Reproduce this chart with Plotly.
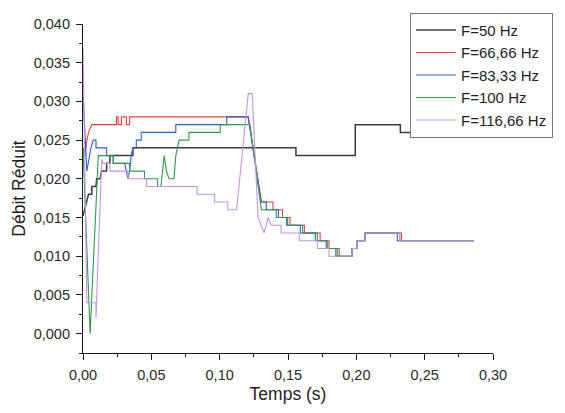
import plotly.graph_objects as go

# Débit réduit en fonction du temps pour cinq fréquences d'excitation
labels = ["F=50 Hz", "F=66,66 Hz", "F=83,33 Hz", "F=100 Hz", "F=116,66 Hz"]
colors = ["#3c3c3c", "#e2413d", "#2e5fcf", "#2f9a4c", "#c493e6"]

t_50 = [0.000, 0.003, 0.004, 0.0064, 0.0064, 0.0095, 0.010, 0.0124, 0.0137, 0.0173, 0.0173,
        0.0197, 0.0197, 0.0365, 0.0365, 0.1558, 0.1558, 0.1992, 0.1992, 0.2322, 0.2322,
        0.2570, 0.2570, 0.2860]
q_50 = [0.0152, 0.0176, 0.018, 0.018, 0.019, 0.019, 0.020, 0.020, 0.021, 0.021, 0.022,
        0.022, 0.023, 0.023, 0.024, 0.024, 0.023, 0.023, 0.027, 0.027, 0.026,
        0.026, 0.027, 0.027]

t_66 = [0.000, 0.0015, 0.0028, 0.004, 0.0064, 0.0245, 0.0245, 0.0257, 0.0257, 0.0281, 0.0281,
        0.0317, 0.0317, 0.0341, 0.0341, 0.1209, 0.1305, 0.1390, 0.1390, 0.1460, 0.1460,
        0.1515, 0.1515, 0.1620, 0.1620, 0.1735, 0.1735, 0.1800, 0.1800, 0.1875, 0.1875,
        0.1968, 0.1968, 0.2004, 0.2004, 0.2064, 0.2064, 0.2330, 0.2330, 0.2860]
q_66 = [0.024, 0.023, 0.025, 0.026, 0.027, 0.027, 0.028, 0.028, 0.027, 0.027, 0.028,
        0.028, 0.027, 0.027, 0.028, 0.028, 0.017, 0.017, 0.016, 0.016, 0.015,
        0.015, 0.014, 0.014, 0.013, 0.013, 0.012, 0.012, 0.011, 0.011, 0.010,
        0.010, 0.011, 0.011, 0.012, 0.012, 0.013, 0.013, 0.012, 0.012]

t_83 = [0.000, 0.0028, 0.0058, 0.0075, 0.0095, 0.0095, 0.0173, 0.0173, 0.0221, 0.0221,
        0.0305, 0.0329, 0.0341, 0.0353, 0.0365, 0.0390, 0.0390, 0.0426, 0.0426, 0.0679,
        0.0679, 0.1052, 0.1052, 0.1209, 0.1305, 0.1341, 0.1341, 0.1430, 0.1430, 0.1490,
        0.1490, 0.1590, 0.1590, 0.1700, 0.1700, 0.1780, 0.1780, 0.1850, 0.1850, 0.1968,
        0.1968, 0.2004, 0.2004, 0.2064, 0.2064, 0.2300, 0.2300, 0.2860]
q_83 = [0.031, 0.021, 0.024, 0.025, 0.025, 0.024, 0.024, 0.023, 0.023, 0.022,
        0.022, 0.020, 0.021, 0.023, 0.024, 0.024, 0.025, 0.025, 0.026, 0.026,
        0.027, 0.027, 0.028, 0.028, 0.017, 0.017, 0.016, 0.016, 0.015, 0.015,
        0.014, 0.014, 0.013, 0.013, 0.012, 0.012, 0.011, 0.011, 0.010, 0.010,
        0.011, 0.011, 0.012, 0.012, 0.013, 0.013, 0.012, 0.012]

t_100 = [0.000, 0.0052, 0.0112, 0.0221, 0.0221, 0.0341, 0.0341, 0.0450, 0.0450, 0.0546,
         0.0546, 0.0570, 0.0594, 0.0610, 0.0630, 0.0666, 0.0679, 0.0690, 0.0703, 0.0775,
         0.0775, 0.1004, 0.1004, 0.1221, 0.1305, 0.1414, 0.1414, 0.1498, 0.1498, 0.1607,
         0.1607, 0.1715, 0.1715, 0.1787, 0.1787, 0.1860, 0.1860, 0.1968, 0.1968, 0.2004,
         0.2004, 0.2064, 0.2064, 0.2317, 0.2317, 0.2860]
q_100 = [0.024, 0.000, 0.023, 0.023, 0.022, 0.022, 0.021, 0.021, 0.020, 0.020,
         0.019, 0.019, 0.023, 0.021, 0.020, 0.020, 0.023, 0.024, 0.025, 0.025,
         0.026, 0.026, 0.027, 0.027, 0.016, 0.016, 0.015, 0.015, 0.014, 0.014,
         0.013, 0.013, 0.012, 0.012, 0.011, 0.011, 0.010, 0.010, 0.011, 0.011,
         0.012, 0.012, 0.013, 0.013, 0.012, 0.012]

t_116 = [0.000, 0.0028, 0.0095, 0.0095, 0.0137, 0.0148, 0.0197, 0.0197, 0.0329, 0.0329,
         0.0466, 0.0466, 0.0835, 0.0835, 0.0963, 0.0963, 0.1059, 0.1059, 0.1124, 0.1209,
         0.1238, 0.1281, 0.1325, 0.1354, 0.1377, 0.1450, 0.1450, 0.1583, 0.1583, 0.1715,
         0.1715, 0.1800, 0.1800, 0.1968, 0.1968, 0.2004, 0.2004, 0.2064, 0.2064, 0.2317,
         0.2317, 0.2860]
q_116 = [0.037, 0.004, 0.004, 0.002, 0.0225, 0.022, 0.022, 0.021, 0.021, 0.020,
         0.020, 0.019, 0.019, 0.018, 0.018, 0.017, 0.017, 0.016, 0.016, 0.031,
         0.031, 0.015, 0.013, 0.015, 0.014, 0.014, 0.013, 0.013, 0.012, 0.012,
         0.011, 0.011, 0.010, 0.010, 0.011, 0.011, 0.012, 0.012, 0.013, 0.013,
         0.012, 0.012]

series_t = [t_50, t_66, t_83, t_100, t_116]
series_q = [q_50, q_66, q_83, q_100, q_116]

y_ticks = [0.000, 0.005, 0.010, 0.015, 0.020, 0.025, 0.030, 0.035, 0.040]
x_ticks = [0.00, 0.05, 0.10, 0.15, 0.20, 0.25, 0.30]

fig = go.Figure()
for name, col, tt, qq in zip(labels, colors, series_t, series_q):
    fig.add_trace(go.Scatter(
        x=tt, y=qq, mode="lines", name=name,
        line=dict(color=col, width=1.5 if name == "F=50 Hz" else 1.1),
    ))

axis_common = dict(
    showline=True, linecolor="#1a1a1a", linewidth=1.2,
    ticks="outside", ticklen=6, tickwidth=1.2, tickcolor="#1a1a1a",
    showgrid=False, zeroline=False,
    tickfont=dict(family="Liberation Sans", size=14.5, color="#2a2a2a"),
)

fig.update_layout(
    width=565, height=413,
    margin=dict(l=83, r=67, t=24, b=54),
    paper_bgcolor="white", plot_bgcolor="white",
    separators=", ",
    font=dict(family="Liberation Sans", color="#1e1e1e"),
    xaxis=dict(
        range=[0, 0.30], tickvals=x_ticks, tickformat=".2f",
        minor=dict(dtick=0.025, ticks="outside", ticklen=3, tickcolor="#1a1a1a", tickwidth=1),
        title=dict(text="Temps (s)", font=dict(size=17.5), standoff=6),
        ticklabelstandoff=2,
        **axis_common,
    ),
    yaxis=dict(
        range=[-0.0025, 0.040], tickvals=y_ticks, tickformat=".3f",
        minor=dict(dtick=0.0025, ticks="outside", ticklen=3, tickcolor="#1a1a1a", tickwidth=1),
        title=dict(text="Débit Réduit", font=dict(size=17.5), standoff=3),
        ticklabelstandoff=3,
        **axis_common,
    ),
    legend=dict(
        x=0.7976, xanchor="left", y=1.034, yanchor="top",
        bgcolor="white", bordercolor="#777777", borderwidth=1,
        font=dict(family="Liberation Sans", size=15, color="#1e1e1e"),
        tracegroupgap=0, itemwidth=40,
    ),
    showlegend=True,
)

fig.write_html("out.html")
